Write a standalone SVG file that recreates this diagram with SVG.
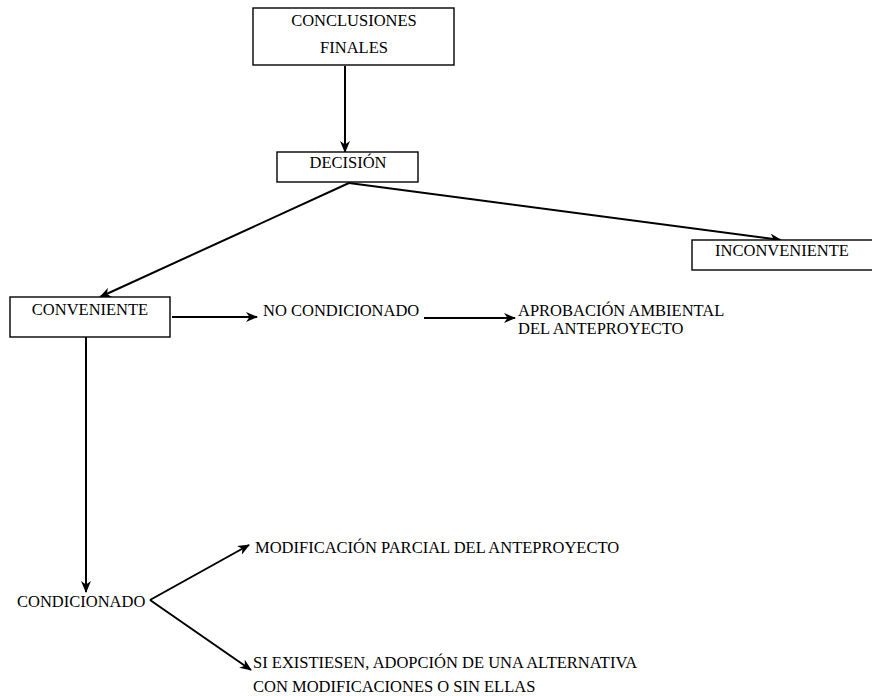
<svg xmlns="http://www.w3.org/2000/svg" width="872" height="696" viewBox="0 0 872 696">
  <style>
    .box { fill: #ffffff; stroke: #000000; stroke-width: 1.4; }
    .lbl { font-family: "Liberation Serif", "Times New Roman", serif; font-size: 16.5px; fill: #000000; }
    .mid { text-anchor: middle; }
    .edge { fill: none; stroke: #000000; stroke-width: 2; marker-end: url(#head); }
  </style>
  <defs>
    <marker id="head" viewBox="0 0 12 10" refX="11" refY="5" markerWidth="12" markerHeight="10" markerUnits="userSpaceOnUse" orient="auto">
      <path d="M0,0 L12,5 L0,10 L3.5,5 Z" fill="#000000"/>
    </marker>
  </defs>
  <rect width="872" height="696" fill="#ffffff"/>

  <g id="connectors">
    <line class="edge" x1="345" y1="66" x2="345" y2="152"/>
    <line class="edge" x1="349" y1="183" x2="100" y2="297"/>
    <line class="edge" x1="349" y1="183" x2="781" y2="240"/>
    <line class="edge" x1="172" y1="317" x2="257" y2="317"/>
    <line class="edge" x1="424" y1="318" x2="515" y2="318"/>
    <line class="edge" x1="86" y1="337" x2="86" y2="592"/>
    <line class="edge" x1="150" y1="600" x2="249" y2="545"/>
    <line class="edge" x1="150" y1="600" x2="251" y2="670"/>
  </g>

  <g id="conclusiones">
    <rect class="box" x="253" y="8" width="201" height="57"/>
    <text class="lbl mid" x="354" y="26">CONCLUSIONES</text>
    <text class="lbl mid" x="354" y="53">FINALES</text>
  </g>

  <g id="decision">
    <rect class="box" x="277" y="152" width="141" height="30"/>
    <text class="lbl mid" x="348" y="168">DECISIÓN</text>
  </g>

  <g id="inconveniente">
    <rect class="box" x="692" y="240" width="190" height="30"/>
    <text class="lbl mid" x="782" y="256">INCONVENIENTE</text>
  </g>

  <g id="conveniente">
    <rect class="box" x="10" y="297" width="160" height="40"/>
    <text class="lbl mid" x="90" y="315">CONVENIENTE</text>
  </g>

  <g id="no-condicionado">
    <text class="lbl" x="263" y="316">NO CONDICIONADO</text>
  </g>

  <g id="aprobacion">
    <text class="lbl" x="518" y="316">APROBACIÓN AMBIENTAL</text>
    <text class="lbl" x="518" y="334">DEL ANTEPROYECTO</text>
  </g>

  <g id="condicionado">
    <text class="lbl" x="17" y="607">CONDICIONADO</text>
  </g>

  <g id="modificacion">
    <text class="lbl" x="255" y="553">MODIFICACIÓN PARCIAL DEL ANTEPROYECTO</text>
  </g>

  <g id="alternativa">
    <text class="lbl" x="253" y="668">SI EXISTIESEN, ADOPCIÓN DE UNA ALTERNATIVA</text>
    <text class="lbl" x="253" y="692">CON MODIFICACIONES O SIN ELLAS</text>
  </g>
</svg>
